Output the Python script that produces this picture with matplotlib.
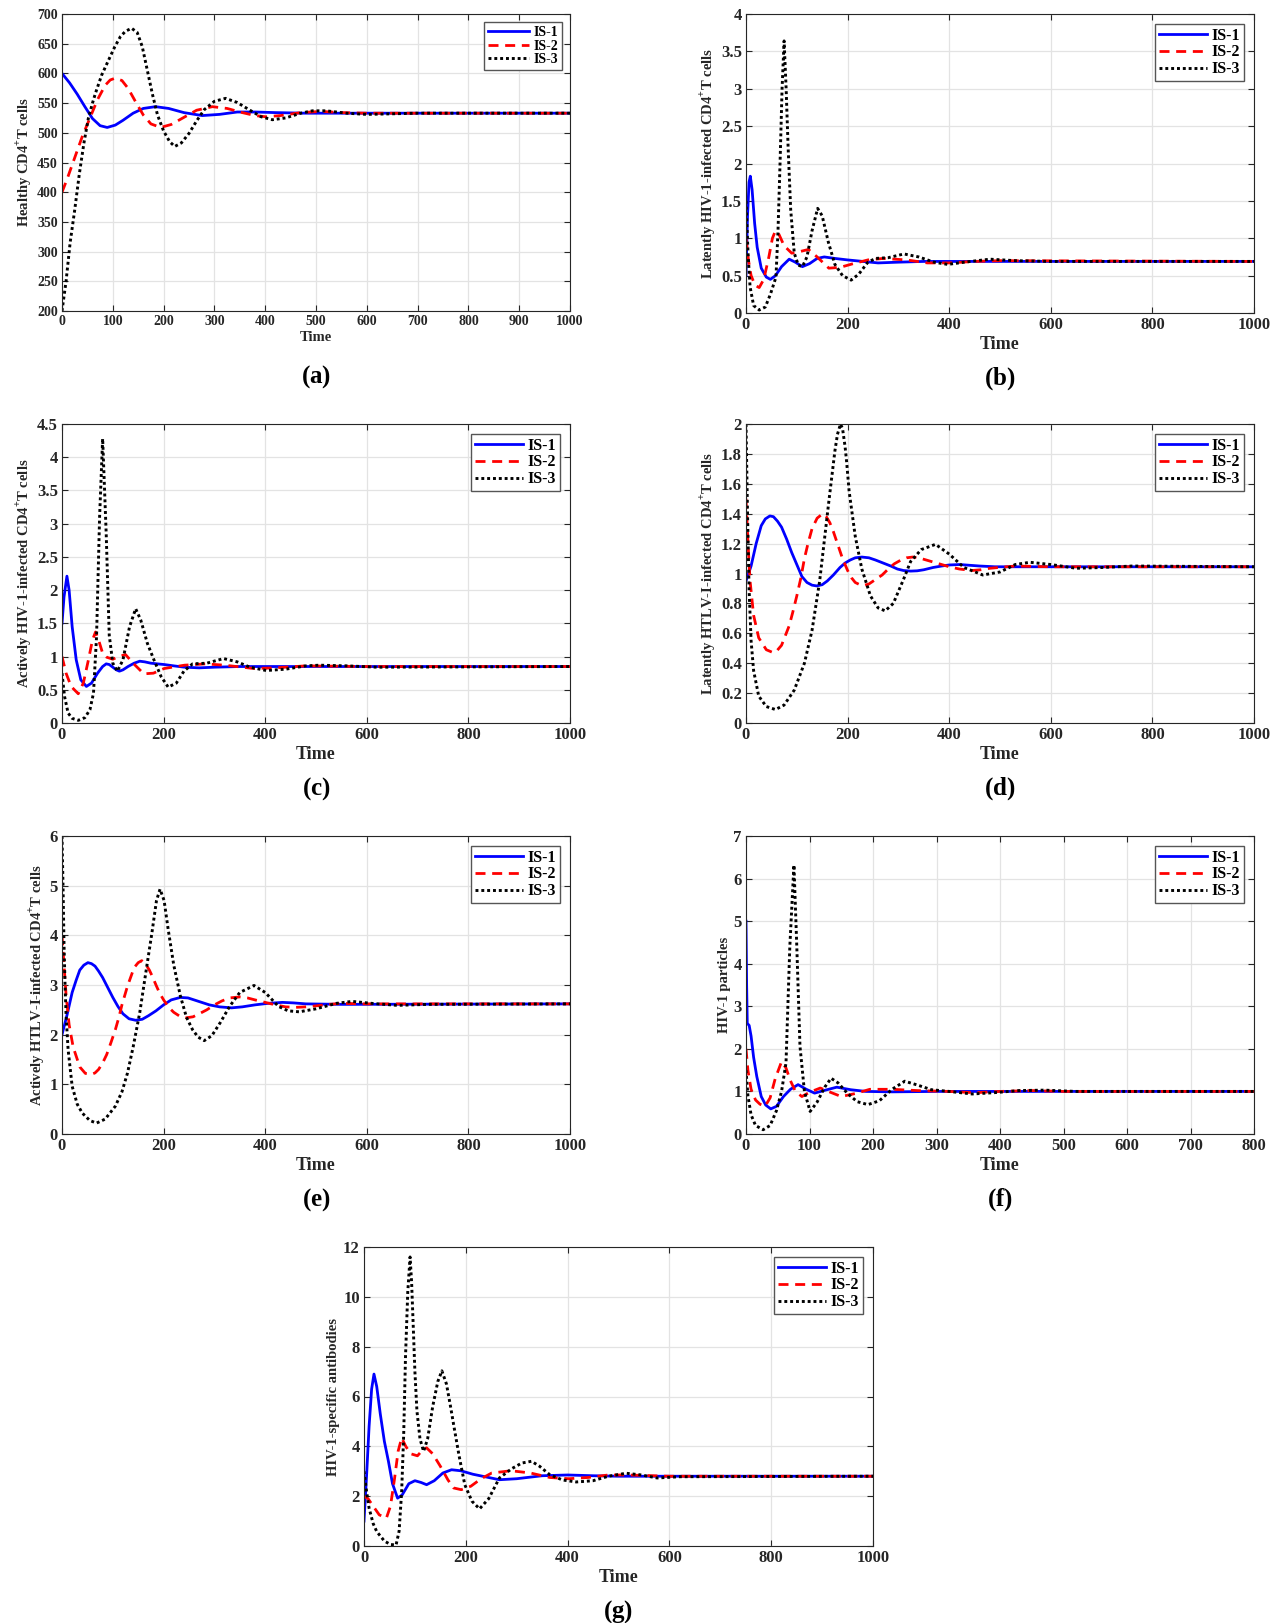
import matplotlib.pyplot as plt
from matplotlib.ticker import MultipleLocator, FormatStrFormatter

plt.rcParams['font.family'] = ['Liberation Serif', 'DejaVu Serif']
plt.rcParams['font.weight'] = 'bold'
plt.rcParams['mathtext.fontset'] = 'custom'
plt.rcParams['mathtext.rm'] = 'Liberation Serif'
plt.rcParams['mathtext.bf'] = 'Liberation Serif:bold'

# ---- data: (time, value) pairs ----
# (a) healthy CD4+ T cells
a_is1 = [(0, 600), (15, 584), (30, 565), (45, 544), (60, 524), (75, 512), (89, 509), (105, 513),
         (120, 521), (140, 533), (160, 541), (184, 544), (210, 541), (240, 534), (276, 529),
         (310, 531), (345, 535), (380, 535), (420, 534), (480, 533), (1000, 533)]
a_is2 = [(0, 400), (10, 422), (20, 446), (30, 470), (40, 494), (56, 527), (70, 556), (85, 580),
         (95, 589), (105, 592), (118, 588), (130, 575), (145, 552), (160, 530), (175, 515),
         (194, 509), (215, 514), (240, 526), (265, 538), (296, 544), (325, 541), (355, 534),
         (380, 529), (401, 527), (430, 529), (470, 534), (510, 536), (550, 534), (600, 533),
         (1000, 533)]
a_is3 = [(0, 200), (8, 250), (16, 315), (25, 370), (34, 430), (43, 482), (52, 525), (60, 550),
         (66, 567), (78, 597), (92, 623), (104, 645), (115, 662), (125, 671), (137, 676),
         (148, 669), (158, 645), (168, 605), (178, 565), (188, 530), (200, 503), (212, 485),
         (222, 477), (235, 483), (250, 499), (265, 520), (280, 539), (300, 553), (322, 558),
         (345, 551), (370, 538), (392, 527), (414, 522), (440, 525), (470, 533), (493, 537),
         (520, 537), (560, 533), (600, 531), (650, 532), (700, 533), (1000, 533)]

# (b) latently HIV-1-infected cells
b_is1 = [(0, 0.5), (3, 1.3), (6, 1.75), (8.5, 1.83), (12, 1.65), (17, 1.2), (22, 0.88), (30, 0.6),
         (40, 0.48), (48, 0.45), (58, 0.5), (70, 0.62), (85, 0.72), (97, 0.68), (111, 0.62),
         (125, 0.66), (140, 0.73), (154, 0.75), (175, 0.73), (200, 0.71), (230, 0.69),
         (260, 0.67), (300, 0.68), (350, 0.69), (1000, 0.69)]
b_is2 = [(0, 1.0), (5, 0.7), (10, 0.5), (18, 0.37), (26, 0.34), (35, 0.45), (45, 0.75), (52, 1.0),
         (58, 1.1), (65, 1.05), (75, 0.9), (90, 0.8), (105, 0.82), (123, 0.85), (140, 0.75),
         (163, 0.6), (185, 0.61), (211, 0.66), (240, 0.71), (270, 0.73), (316, 0.71), (357, 0.67),
         (400, 0.67), (450, 0.69), (500, 0.7), (1000, 0.69)]
b_is3 = [(0, 1.5), (4, 0.8), (8, 0.35), (15, 0.1), (26, 0.04), (38, 0.08), (48, 0.25), (59, 0.48),
         (63, 1.1), (67, 2.0), (71, 3.0), (75, 3.64), (79, 3.0), (83, 2.2), (88, 1.38), (95, 0.8),
         (103, 0.64), (111, 0.62), (120, 0.75), (130, 1.1), (141, 1.4), (150, 1.3), (162, 0.95),
         (175, 0.65), (190, 0.5), (207, 0.44), (222, 0.52), (240, 0.68), (255, 0.73), (280, 0.74),
         (311, 0.79), (340, 0.75), (370, 0.68), (397, 0.65), (430, 0.68), (480, 0.72),
         (530, 0.7), (600, 0.69), (1000, 0.69)]

# (c) actively HIV-1-infected cells
c_is1 = [(0, 1.5), (4, 1.9), (9.7, 2.21), (14, 2.0), (20, 1.45), (28, 0.95), (37, 0.65), (48, 0.55),
         (58, 0.6), (70, 0.75), (80, 0.85), (87, 0.89), (93, 0.88), (100, 0.84), (107, 0.8),
         (113, 0.78), (120, 0.8), (130, 0.85), (142, 0.9), (153, 0.93), (163, 0.92), (175, 0.9),
         (188, 0.89), (201, 0.88), (220, 0.86), (241, 0.84), (270, 0.83), (300, 0.84),
         (350, 0.85), (1000, 0.85)]
c_is2 = [(0, 1.0), (8, 0.75), (18, 0.55), (32, 0.44), (42, 0.6), (52, 0.95), (60, 1.25), (66, 1.37),
         (72, 1.25), (80, 1.05), (88, 0.99), (100, 0.96), (112, 1.0), (125, 1.03), (140, 0.9),
         (161, 0.74), (180, 0.75), (201, 0.82), (241, 0.87), (282, 0.89), (320, 0.87),
         (378, 0.82), (420, 0.83), (480, 0.86), (600, 0.85), (1000, 0.85)]
c_is3 = [(0, 0.75), (5, 0.4), (12, 0.15), (20, 0.07), (32, 0.04), (45, 0.08), (55, 0.2), (62, 0.45),
         (68, 1.3), (74, 3.1), (80, 4.28), (87, 2.85), (93, 1.32), (100, 0.9), (109, 0.78),
         (120, 0.95), (133, 1.45), (145, 1.72), (155, 1.55), (168, 1.2), (181, 0.95), (195, 0.7),
         (209, 0.54), (225, 0.6), (240, 0.78), (257, 0.89), (285, 0.9), (318, 0.97), (345, 0.92),
         (370, 0.84), (402, 0.79), (440, 0.81), (480, 0.86), (507, 0.87), (560, 0.86),
         (620, 0.84), (1000, 0.85)]

# (d) latently HTLV-I-infected cells
d_is1 = [(0, 0.95), (10, 1.05), (20, 1.2), (30, 1.32), (38, 1.365), (47, 1.385), (54, 1.38),
         (62, 1.35), (70, 1.31), (80, 1.23), (90, 1.14), (100, 1.06), (110, 0.98), (120, 0.94),
         (130, 0.922), (139, 0.917), (150, 0.925), (160, 0.95), (172, 0.99), (185, 1.04),
         (195, 1.07), (205, 1.09), (215, 1.105), (228, 1.11), (242, 1.105), (255, 1.09),
         (270, 1.07), (285, 1.05), (298, 1.03), (310, 1.02), (324, 1.016), (337, 1.018),
         (350, 1.025), (368, 1.04), (385, 1.05), (400, 1.057), (421, 1.06), (440, 1.055),
         (460, 1.05), (490, 1.045), (520, 1.045), (1000, 1.045)]
d_is2 = [(0, 1.5), (4, 1.2), (8, 0.95), (15, 0.72), (25, 0.57), (40, 0.49), (54, 0.47), (60, 0.48),
         (70, 0.52), (85, 0.65), (92, 0.74), (100, 0.85), (108, 0.97), (115, 1.1), (122, 1.2),
         (130, 1.3), (140, 1.37), (151, 1.4), (158, 1.38), (165, 1.34), (172, 1.28), (180, 1.2),
         (190, 1.1), (200, 1.02), (208, 0.97), (215, 0.94), (224, 0.925), (232, 0.92),
         (242, 0.93), (255, 0.96), (268, 0.99), (280, 1.03), (292, 1.065), (305, 1.09),
         (316, 1.105), (328, 1.11), (340, 1.105), (355, 1.09), (370, 1.075), (385, 1.06),
         (400, 1.045), (420, 1.03), (445, 1.02), (462, 1.025), (480, 1.035), (530, 1.05),
         (600, 1.045), (1000, 1.045)]
d_is3 = [(0, 2.0), (3, 1.4), (6, 0.9), (10, 0.55), (15, 0.35), (25, 0.18), (40, 0.11), (58, 0.09),
         (75, 0.12), (95, 0.22), (115, 0.4), (130, 0.62), (145, 0.95), (163, 1.48), (175, 1.82),
         (180, 1.93), (186, 2.0), (190, 1.97), (195, 1.85), (198, 1.75), (203, 1.55), (215, 1.25),
         (228, 1.03), (245, 0.85), (260, 0.77), (274, 0.75), (290, 0.8), (310, 0.96), (324, 1.08),
         (345, 1.16), (373, 1.195), (400, 1.13), (429, 1.04), (466, 0.99), (500, 1.01),
         (530, 1.06), (559, 1.075), (600, 1.06), (650, 1.035), (700, 1.04), (760, 1.05),
         (1000, 1.045)]

# (e) actively HTLV-I-infected cells
e_is1 = [(0, 2.0), (10, 2.4), (20, 2.85), (28, 3.1), (35, 3.3), (43, 3.4), (51, 3.45), (58, 3.43),
         (65, 3.38), (72, 3.28), (80, 3.15), (90, 2.95), (100, 2.75), (110, 2.57), (120, 2.42),
         (132, 2.32), (145, 2.29), (158, 2.31), (170, 2.38), (185, 2.48), (200, 2.6), (215, 2.7),
         (233, 2.75), (248, 2.74), (260, 2.7), (275, 2.65), (290, 2.6), (310, 2.56), (334, 2.54),
         (355, 2.56), (380, 2.6), (405, 2.63), (434, 2.65), (455, 2.64), (480, 2.62), (550, 2.61),
         (1000, 2.62)]
e_is2 = [(0, 4.0), (4, 3.4), (8, 2.8), (14, 2.2), (22, 1.75), (35, 1.35), (46, 1.22), (58, 1.2),
         (65, 1.23), (72, 1.3), (80, 1.43), (88, 1.6), (96, 1.83), (105, 2.1), (112, 2.35),
         (118, 2.6), (129, 2.98), (142, 3.35), (150, 3.45), (157, 3.49), (164, 3.43), (172, 3.3),
         (178, 3.17), (185, 3.0), (192, 2.84), (200, 2.7), (210, 2.55), (220, 2.45), (232, 2.37),
         (245, 2.34), (258, 2.36), (270, 2.42), (285, 2.5), (300, 2.6), (315, 2.68), (330, 2.74),
         (350, 2.76), (365, 2.74), (380, 2.7), (400, 2.65), (420, 2.6), (440, 2.56), (460, 2.55),
         (480, 2.56), (500, 2.58), (525, 2.61), (550, 2.63), (600, 2.62), (1000, 2.62)]
e_is3 = [(0, 6.0), (2, 5.0), (4, 3.8), (6, 3.0), (8, 2.4), (12, 1.7), (20, 0.96), (30, 0.6),
         (40, 0.42), (55, 0.27), (68, 0.22), (85, 0.3), (105, 0.56), (118, 0.85), (129, 1.23),
         (140, 1.75), (153, 2.44), (165, 3.25), (177, 4.05), (186, 4.7), (193, 4.93), (201, 4.7),
         (209, 4.12), (220, 3.4), (233, 2.78), (245, 2.35), (257, 2.1), (268, 1.95), (280, 1.88),
         (295, 1.98), (312, 2.25), (330, 2.57), (350, 2.85), (378, 2.99), (400, 2.85), (426, 2.57),
         (445, 2.48), (467, 2.46), (500, 2.52), (540, 2.63), (571, 2.67), (610, 2.63),
         (660, 2.59), (720, 2.61), (1000, 2.62)]

# (f) HIV-1 particles
f_is1 = [(0, 5.0), (1, 3.5), (2, 2.6), (5, 2.55), (8, 2.3), (12, 1.8), (17, 1.35), (24, 0.88),
         (31, 0.68), (39, 0.59), (48, 0.65), (59, 0.88), (70, 1.05), (82, 1.16), (95, 1.05),
         (108, 0.96), (125, 1.03), (143, 1.1), (165, 1.04), (189, 1.0), (230, 0.99), (300, 1.0),
         (800, 1.0)]
f_is2 = [(0, 2.0), (3, 1.5), (8, 1.05), (15, 0.8), (22, 0.7), (30, 0.65), (38, 0.85), (46, 1.3),
         (56, 1.7), (63, 1.55), (70, 1.25), (78, 1.0), (88, 0.88), (100, 0.98), (117, 1.08),
         (133, 0.98), (150, 0.88), (172, 0.95), (195, 1.05), (230, 1.05), (270, 1.02), (320, 1.0),
         (360, 0.97), (400, 1.0), (450, 1.02), (500, 1.0), (800, 1.0)]
f_is3 = [(0, 1.5), (3, 0.9), (8, 0.45), (15, 0.2), (27, 0.1), (38, 0.2), (48, 0.55), (56, 1.0),
         (63, 1.67), (69, 4.4), (75.5, 6.32), (80, 4.4), (85, 2.06), (92, 1.0), (101, 0.53),
         (112, 0.75), (124, 1.1), (134, 1.31), (145, 1.2), (160, 0.95), (175, 0.76), (192, 0.69),
         (210, 0.78), (230, 1.05), (250, 1.24), (270, 1.15), (292, 1.04), (320, 1.0), (356, 0.94),
         (390, 0.97), (430, 1.02), (470, 1.03), (520, 1.0), (800, 1.0)]

# (g) HIV-1-specific antibodies
g_is1 = [(0, 1.0), (5, 2.8), (10, 4.8), (15, 6.3), (19.6, 6.9), (25, 6.4), (32, 5.3), (40, 4.2),
         (48, 3.4), (56, 2.5), (66, 1.92), (75, 2.05), (88, 2.5), (100, 2.62), (112, 2.55),
         (123, 2.46), (138, 2.62), (155, 2.93), (172, 3.06), (190, 3.02), (214, 2.88), (240, 2.77),
         (266, 2.66), (300, 2.7), (350, 2.82), (400, 2.85), (450, 2.82), (500, 2.8), (1000, 2.8)]
g_is2 = [(0, 2.0), (8, 1.9), (18, 1.6), (30, 1.25), (44, 1.12), (52, 1.6), (60, 2.7), (67, 3.8),
         (74, 4.34), (82, 4.0), (92, 3.7), (105, 3.62), (115, 3.85), (123, 3.94), (135, 3.7),
         (150, 3.2), (165, 2.65), (176, 2.33), (191, 2.26), (210, 2.4), (230, 2.7), (251, 2.93),
         (289, 3.02), (327, 2.93), (365, 2.75), (402, 2.7), (440, 2.75), (480, 2.85), (520, 2.85),
         (600, 2.8), (1000, 2.8)]
g_is3 = [(0, 3.0), (5, 2.2), (10, 1.52), (18, 0.9), (25, 0.58), (40, 0.2), (52, 0.06), (63, 0.04),
         (69, 0.6), (74, 2.19), (78, 4.5), (81.5, 7.57), (86, 10.2), (90.5, 11.6), (93.5, 10.6),
         (96.6, 8.9), (100, 7.0), (104, 5.42), (110, 4.3), (117, 3.8), (125, 4.3), (135, 5.6),
         (145, 6.6), (153, 7.03), (162, 6.5), (170, 5.6), (176, 4.88), (187, 3.6), (198, 2.46),
         (212, 1.8), (227, 1.49), (245, 1.9), (266, 2.73), (290, 3.1), (310, 3.33), (329, 3.4),
         (345, 3.2), (365, 2.86), (390, 2.65), (417, 2.57), (450, 2.62), (480, 2.8), (515, 2.92),
         (545, 2.85), (576, 2.73), (620, 2.78), (1000, 2.8)]

SERIES_LABELS = ['IS-1', 'IS-2', 'IS-3']
COLORS = ['#0000ff', '#ff0000', '#000000']
STYLES = ['-', (0, (3.6, 2.4)), (0, (1, 1))]

# panel: data, xmax, xstep, ymin, ymax, ystep, ylabel, letter, axes rect (px: left, top, right, bottom)
PANELS = [
    ([a_is1, a_is2, a_is3], 1000, 100, 200, 700, 50, r'Healthy CD4$^{\mathbf{+}}$T cells', 'a',
     (62, 14, 570, 311)),
    ([b_is1, b_is2, b_is3], 1000, 200, 0, 4, 0.5,
     r'Latently HIV-1-infected CD4$^{\mathbf{+}}$T cells', 'b', (746, 14, 1254, 313)),
    ([c_is1, c_is2, c_is3], 1000, 200, 0, 4.5, 0.5,
     r'Actively HIV-1-infected CD4$^{\mathbf{+}}$T cells', 'c', (62, 424, 570, 723)),
    ([d_is1, d_is2, d_is3], 1000, 200, 0, 2, 0.2,
     r'Latently HTLV-I-infected CD4$^{\mathbf{+}}$T cells', 'd', (746, 424, 1254, 723)),
    ([e_is1, e_is2, e_is3], 1000, 200, 0, 6, 1,
     r'Actively HTLV-I-infected CD4$^{\mathbf{+}}$T cells', 'e', (62, 836, 570, 1134)),
    ([f_is1, f_is2, f_is3], 800, 100, 0, 7, 1, 'HIV-1 particles', 'f', (746, 836, 1254, 1134)),
    ([g_is1, g_is2, g_is3], 1000, 200, 0, 12, 2, 'HIV-1-specific antibodies', 'g',
     (364, 1247, 873, 1546)),
]

W, H = 1282, 1623
fig = plt.figure(figsize=(W / 100, H / 100), dpi=100)
TXT = '#262626'

for i, (series, xmax, xstep, ymin, ymax, ystep, ylabel, letter, box) in enumerate(PANELS):
    left, top, right, bottom = box
    ax = fig.add_axes([left / W, 1 - bottom / H, (right - left) / W, (bottom - top) / H])
    small = (i == 0)
    for pts, lab, col, ls in zip(series, SERIES_LABELS, COLORS, STYLES):
        t = [p[0] for p in pts]
        v = [p[1] for p in pts]
        lw = 2.1 if ls == STYLES[2] else 2.0
        ax.plot(t, v, color=col, linestyle=ls, linewidth=lw, label=lab)
    ax.set_xlim(0, xmax)
    ax.set_ylim(ymin, ymax)
    ax.xaxis.set_major_locator(MultipleLocator(xstep))
    ax.yaxis.set_major_locator(MultipleLocator(ystep))
    ax.xaxis.set_major_formatter(FormatStrFormatter('%g'))
    ax.yaxis.set_major_formatter(FormatStrFormatter('%g'))
    ax.grid(True, color='#e3e3e3', linewidth=0.9)
    ax.set_axisbelow(True)
    ax.tick_params(direction='in', top=True, right=True, length=4, width=0.8,
                   labelsize=10 if small else 12, colors=TXT, pad=3)
    for sp in ax.spines.values():
        sp.set_color(TXT)
        sp.set_linewidth(0.8)
    ax.set_xlabel('Time', fontsize=10.5 if small else 13, fontweight='bold', color=TXT,
                  labelpad=2)
    ax.set_ylabel(ylabel, fontsize=10.5, fontweight='bold', color=TXT, labelpad=2)
    leg = ax.legend(loc='upper right', fontsize=10 if small else 11.5, handlelength=3.0,
                    labelspacing=0.05, borderpad=0.25, handletextpad=0.3, borderaxespad=0.6,
                    fancybox=False, framealpha=1, edgecolor='#555555')
    leg.get_frame().set_linewidth(1.0)
    for txt in leg.get_texts():
        txt.set_fontweight('bold')
    fig.text((left + right) / 2 / W, 1 - (bottom + 66) / H,
             r'$\mathrm{(}\mathbf{%s}\mathrm{)}$' % letter, fontsize=18, ha='center', va='center',
             color='black')

fig.savefig('out.png', dpi=100)
